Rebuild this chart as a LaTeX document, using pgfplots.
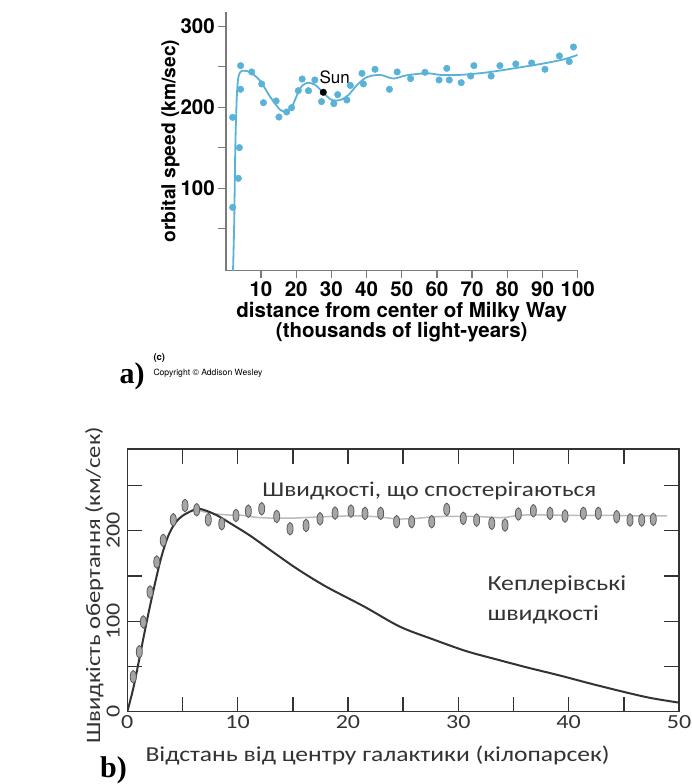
\documentclass[border=0pt]{standalone}
\usepackage{fontspec}
\setmainfont{TeX Gyre Heros}
\newfontfamily\carlito[FakeStretch=1.2]{Carlito}
\newfontfamily\timesr{Liberation Serif}
\usepackage{pgfplots}
\pgfplotsset{compat=1.18}

\definecolor{dotblue}{HTML}{5AB2D8}
\definecolor{axgray}{HTML}{7A7A7A}
\definecolor{kepler}{HTML}{333333}
\definecolor{obsline}{HTML}{BBBBBB}
\definecolor{obsfill}{HTML}{A6A6A6}
\definecolor{obsedge}{HTML}{5A5A5A}
\definecolor{txtb}{HTML}{333333}

% upright ellipse used for the observed speeds in b)
\pgfdeclareplotmark{vellipse}{%
  \pgfpathellipse{\pgfpointorigin}{\pgfqpoint{3pt}{0pt}}{\pgfqpoint{0pt}{6.3pt}}%
  \pgfusepathqfillstroke}

\begin{document}
\begin{tikzpicture}
\useasboundingbox (0,0) rectangle (691pt,784pt);

% ---------- a) Milky Way rotation curve
\begin{axis}[
  at={(225.8pt,513.3pt)}, anchor=south west,
  scale only axis, width=351.9pt, height=259pt,
  xmin=0, xmax=100, ymin=-1.7, ymax=318,
  axis x line=bottom, axis y line=left,
  axis line style={-, axgray, line width=1.4pt},
  tick align=outside, major tick length=7.5pt,
  tick style={axgray, line width=1.3pt},
  xtick={10,20,...,100},
  ytick={50,100,...,300},
  yticklabels={{},100,{},200,{},300},
  /pgf/number format/assume math mode=true,
  ticklabel style={font=\fontsize{20.5}{20.5}\selectfont\bfseries},
  xlabel={distance from center of Milky Way\\(thousands of light-years)},
  xlabel style={at={(axis description cs:0.5,0)}, anchor=north, yshift=-31pt,
    inner sep=0pt, align=center, font=\fontsize{20.5}{20.5}\selectfont\bfseries},
  ylabel={orbital speed (km/sec)},
  ylabel style={at={([xshift=-46pt]axis description cs:0,0.5)}, anchor=south,
    inner sep=0pt, font=\fontsize{19.2}{19.2}\selectfont\bfseries},
]
\addplot[dotblue, line width=1.8pt, smooth, tension=0.5] coordinates {
  (2.05,-2) (2.4,60) (2.7,150) (3.1,210) (3.5,235) (4.2,244) (5.5,245) (7,243)
  (9.7,233) (12.6,213) (15.4,197) (17.1,195) (18.7,200) (21.1,223) (23,230)
  (25.3,228) (27.7,218) (30.1,209) (32.5,209) (34.8,215) (37.2,227) (40,237)
  (43.8,240) (47.6,235.5) (51.4,239.5) (57.1,242) (61,240) (66.6,240)
  (73.2,242.5) (78.9,246) (84.6,250) (90.2,254) (95.9,259) (100,264.6)
};
\addplot[only marks, mark=*, mark size=3.3pt, dotblue] coordinates {
  (1.95,187.6) (1.95,76.5) (3.56,112.3) (3.85,150.2) (4.2,251.4) (4.2,222.2)
  (7.35,243.6) (10.2,228.8) (10.7,205.7) (14.3,207.8) (15.1,188) (17.3,194.2)
  (18.7,199.5) (20.6,220.5) (21.7,234.9) (23.5,220.5) (25.3,233.7) (27.2,207)
  (30.7,204.5) (31.8,215.6) (34.4,209) (35.4,227) (38.7,241.9) (39.1,228.8)
  (42.4,246.9) (46.5,222.2) (48.7,243.6) (52.5,235.4) (56.6,243.2) (60.6,233.7)
  (62.8,248.1) (63.5,233.7) (66.9,230.4) (69.6,238.6) (70.5,251.4) (75.4,238.6)
  (77.9,251.4) (82.4,253.5) (86.9,254.7) (90.7,246.9) (94.8,263.4) (97.6,256.4)
  (98.8,274.4)
};
\addplot[only marks, mark=*, mark size=3.3pt, black] coordinates {(27.7,218.5)};
\node[anchor=base west, inner sep=0pt, font=\fontsize{17}{17}\selectfont]
  at (axis cs:26.6,228.8) {Sun};
\end{axis}

\node[anchor=base west, inner sep=0pt, font=\timesr\bfseries\fontsize{30}{30}\selectfont]
  at (119.3pt,400.7pt) {a)};
\node[anchor=base west, inner sep=0pt, font=\bfseries\fontsize{9.5}{9.5}\selectfont]
  at (153.3pt,423pt) {(c)};
\node[anchor=base west, inner sep=0pt, font=\fontsize{8.6}{8.6}\selectfont]
  at (153.3pt,408.5pt) {Copyright © Addison Wesley};

% ---------- b) observed vs Keplerian speeds
\begin{axis}[
  at={(127.3pt,72.3pt)}, anchor=south west,
  scale only axis, width=551.7pt, height=262.4pt,
  xmin=0, xmax=50, ymin=0, ymax=290,
  axis line style={kepler, line width=1.6pt},
  tick align=inside, major tick length=15pt,
  tick style={kepler, line width=1.4pt},
  xtick={0,5,...,50}, xticklabels={0,{},10,{},20,{},30,{},40,{},50},
  ytick={0,50,...,250}, yticklabels={0,{},100,{},200,{}},
  /pgf/number format/assume math mode=true,
  ticklabel style={font=\carlito\fontsize{20}{20}\selectfont, text=txtb},
  yticklabel style={rotate=90, anchor=south},
  yticklabel shift={4pt},
  xlabel={Відстань від центру галактики (кілопарсек)},
  xlabel style={at={(rel axis cs:0,0)}, anchor=base west, xshift=18pt, yshift=-50pt,
    inner sep=0pt, text=txtb, font=\carlito\fontsize{21.3}{21.3}\selectfont},
  ylabel={Швидкість обертання (км/сек)},
  ylabel style={at={([xshift=-33pt,yshift=-5pt]rel axis cs:0,0.5)}, anchor=center,
    inner sep=0pt, text=txtb, font=\carlito\fontsize{20.5}{20.5}\selectfont},
]
\addplot[obsline, line width=1.5pt, smooth] coordinates {
  (6.0,224) (7.5,219.5) (9.0,217.5) (10.5,217) (11.5,215) (13,214) (15,214)
  (17,215) (19,216) (21,216.5) (23,215) (24.5,213) (26,213.5) (28,215.5)
  (30,216) (32,215.5) (34,214.5) (35.5,217) (37,217.5) (40,217) (43,217)
  (46,216.5) (48.9,216.5)
};
\addplot[only marks, mark=vellipse, mark options={fill=obsfill, draw=obsedge, line width=0.8pt}] coordinates {
  (0.54,38.6) (1.09,66.2) (1.45,99.2) (2.06,132.3) (2.67,165.4) (3.26,189.3)
  (4.17,212.1) (5.23,227.9) (6.29,223.2) (7.34,212.1) (8.56,207.7) (9.85,216.9)
  (10.97,221.6) (12.18,224.3) (13.54,215.8) (14.75,202.2) (16.2,205.8)
  (17.47,213.2) (18.83,219.5) (20.27,221.7) (21.54,219.2) (22.96,219.2)
  (24.41,210) (25.77,210) (27.59,210) (28.95,223.6) (30.45,213.7) (31.66,211.8)
  (33.03,208.2) (34.23,206.3) (35.44,218.5) (36.8,222.1) (38.31,219.2)
  (39.67,216.2) (41.33,219.2) (42.69,219.2) (44.35,215.5) (45.56,211.8)
  (46.62,211.8) (47.67,212.6)
};
\addplot[kepler, line width=2pt, smooth, tension=0.5] coordinates {
  (0,0) (0.62,30) (1.47,82) (2.15,122) (3.0,167) (3.7,194) (4.37,209)
  (5.06,217) (6.25,224) (6.94,223) (8.13,217) (9.5,207) (11.2,194) (13.26,176)
  (15.5,157) (18.05,138) (21.5,116) (24.7,94) (27.7,80) (30.7,67) (33.4,58)
  (36.2,49) (39.2,40) (42,31) (45.3,21) (47.5,15) (50,10)
};
\node[anchor=base west, inner sep=0pt, text=txtb, font=\carlito\fontsize{21}{21}\selectfont]
  at (axis cs:12.23,238.2) {Швидкості, що спостерігаються};
\node[anchor=base west, inner sep=0pt, text=txtb, align=left,
  font=\carlito\fontsize{21.5}{30}\selectfont]
  at (axis cs:32.63,100.6) {Кеплерівські\\швидкості};
\end{axis}

\node[anchor=base west, inner sep=0pt, font=\timesr\bfseries\fontsize{30}{30}\selectfont]
  at (100pt,6pt) {b)};
\end{tikzpicture}
\end{document}
